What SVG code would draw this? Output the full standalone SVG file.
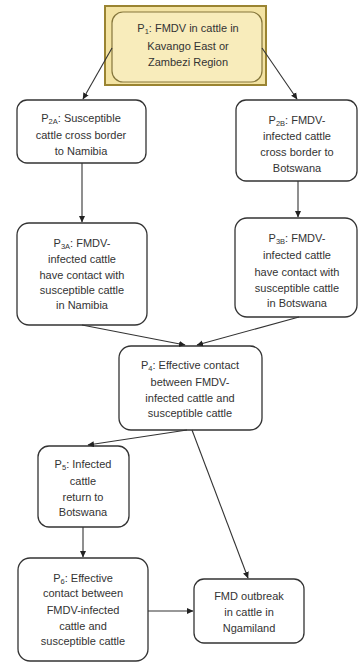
<svg xmlns="http://www.w3.org/2000/svg" width="358" height="662" viewBox="0 0 358 662">
<defs>
<marker id="ah" markerWidth="7" markerHeight="7" refX="6" refY="3.5" orient="auto" markerUnits="userSpaceOnUse">
<path d="M0,0.5 L6.5,3.5 L0,6.5 Z" fill="#222"/>
</marker>
</defs>
<style>
.box{fill:#fff;stroke:#333;stroke-width:1.3}
.t{font-family:"Liberation Sans",Arial,sans-serif;font-size:11px;fill:#333;text-anchor:middle}
.s{font-size:7.5px}
.c{stroke:#333;stroke-width:1.1;fill:none;marker-end:url(#ah)}
</style>
<rect width="358" height="662" fill="#fff"/>
<g id="P1">
<rect x="105" y="6" width="161" height="79" fill="#f3e3a3" stroke="#9a8432" stroke-width="2"/>
<rect x="112" y="12" width="150" height="70" rx="11" fill="#f8ecbb" stroke="#85763c" stroke-width="1.2"/>
<text class="t" x="188" y="32">P<tspan class="s" dy="2">1</tspan><tspan dy="-2">: FMDV in cattle in</tspan></text>
<text class="t" x="188" y="50">Kavango East or</text>
<text class="t" x="188" y="66">Zambezi Region</text>
</g>
<g id="P2A">
<rect class="box" x="17" y="100" width="129" height="63" rx="10"/>
<text class="t" x="81" y="122">P<tspan class="s" dy="2">2A</tspan><tspan dy="-2">: Susceptible</tspan></text>
<text class="t" x="81" y="139">cattle cross border</text>
<text class="t" x="81" y="155">to Namibia</text>
</g>
<g id="P2B">
<rect class="box" x="236" y="100" width="121" height="81" rx="10"/>
<text class="t" x="297" y="124">P<tspan class="s" dy="2">2B</tspan><tspan dy="-2">: FMDV-</tspan></text>
<text class="t" x="297" y="140">infected cattle</text>
<text class="t" x="297" y="156">cross border to</text>
<text class="t" x="297" y="172">Botswana</text>
</g>
<g id="P3A">
<rect class="box" x="17" y="223" width="130" height="102" rx="12"/>
<text class="t" x="82" y="247">P<tspan class="s" dy="2">3A</tspan><tspan dy="-2">: FMDV-</tspan></text>
<text class="t" x="82" y="263">infected cattle</text>
<text class="t" x="82" y="279">have contact with</text>
<text class="t" x="82" y="294">susceptible cattle</text>
<text class="t" x="82" y="309">in Namibia</text>
</g>
<g id="P3B">
<rect class="box" x="235" y="218" width="122" height="99" rx="12"/>
<text class="t" x="297" y="242">P<tspan class="s" dy="2">3B</tspan><tspan dy="-2">: FMDV-</tspan></text>
<text class="t" x="297" y="259">infected cattle</text>
<text class="t" x="297" y="276">have contact with</text>
<text class="t" x="297" y="292">susceptible cattle</text>
<text class="t" x="297" y="307">in Botswana</text>
</g>
<g id="P4">
<rect class="box" x="119" y="346" width="143" height="84" rx="12"/>
<text class="t" x="190" y="369">P<tspan class="s" dy="2">4</tspan><tspan dy="-2">: Effective contact</tspan></text>
<text class="t" x="190" y="386">between FMDV-</text>
<text class="t" x="190" y="402">infected cattle and</text>
<text class="t" x="190" y="417">susceptible cattle</text>
</g>
<g id="P5">
<rect class="box" x="38" y="446" width="91" height="81" rx="11"/>
<text class="t" x="83" y="468">P<tspan class="s" dy="2">5</tspan><tspan dy="-2">: Infected</tspan></text>
<text class="t" x="83" y="485">cattle</text>
<text class="t" x="83" y="501">return to</text>
<text class="t" x="83" y="516">Botswana</text>
</g>
<g id="P6">
<rect class="box" x="18" y="558" width="130" height="103" rx="12"/>
<text class="t" x="83" y="582">P<tspan class="s" dy="2">6</tspan><tspan dy="-2">: Effective</tspan></text>
<text class="t" x="83" y="597">contact between</text>
<text class="t" x="83" y="614">FMDV-infected</text>
<text class="t" x="83" y="630">cattle and</text>
<text class="t" x="83" y="645">susceptible cattle</text>
</g>
<g id="FMD">
<rect class="box" x="194" y="579" width="110" height="64" rx="10"/>
<text class="t" x="249" y="600">FMD outbreak</text>
<text class="t" x="249" y="616">in cattle in</text>
<text class="t" x="249" y="632">Ngamiland</text>
</g>
<g id="connectors">
<line class="c" x1="112" y1="48" x2="83" y2="99"/>
<line class="c" x1="262" y1="48" x2="297" y2="99"/>
<line class="c" x1="82" y1="163" x2="82" y2="222"/>
<line class="c" x1="298" y1="181" x2="298" y2="217"/>
<line class="c" x1="82" y1="325" x2="185" y2="345"/>
<line class="c" x1="299" y1="317" x2="197" y2="345"/>
<line class="c" x1="187" y1="430" x2="88" y2="445"/>
<line class="c" x1="192" y1="430" x2="248" y2="578"/>
<line class="c" x1="83" y1="527" x2="83" y2="557"/>
<line class="c" x1="148" y1="611" x2="193" y2="611"/>
</g>
</svg>
